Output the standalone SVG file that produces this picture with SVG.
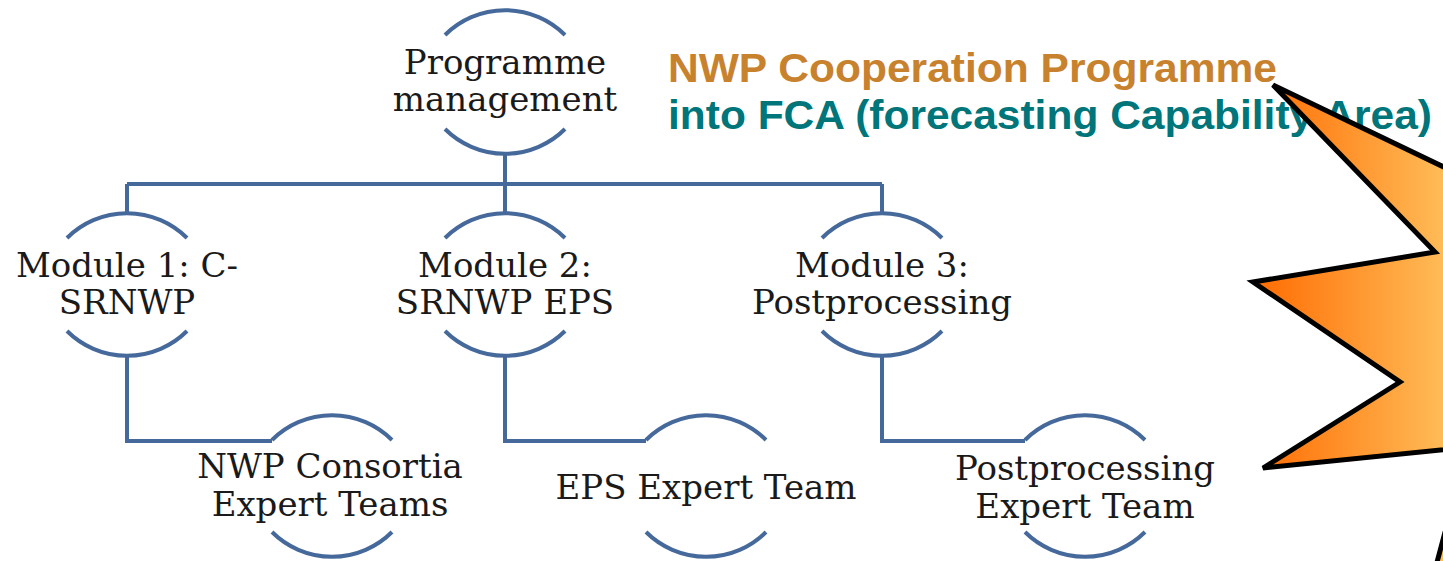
<svg xmlns="http://www.w3.org/2000/svg" width="1443" height="561" viewBox="0 0 1443 561">
<defs>
<linearGradient id="burst" gradientUnits="userSpaceOnUse" x1="1250" y1="0" x2="1450" y2="0">
<stop offset="0" stop-color="#FF6A00"/>
<stop offset="1" stop-color="#FFBE5A"/>
</linearGradient>
<style>
.arc{fill:none;stroke:#46699B;stroke-width:4}
.con{fill:none;stroke:#46699B;stroke-width:4}
.lbl{font-family:"DejaVu Serif",serif;font-size:34px;fill:#1a1a1a;text-anchor:middle}
.t1{font-family:"Liberation Sans",Arial,sans-serif;font-weight:bold;font-size:40px;fill:#C8822D}
.t2{font-family:"Liberation Sans",Arial,sans-serif;font-weight:bold;font-size:40px;fill:#00757A}
.star{fill:url(#burst);stroke:#000;stroke-width:5;stroke-linejoin:miter}
</style>
</defs>
<rect width="1443" height="561" fill="#fff"/>
<g id="connectors">
<path class="con" d="M505,154 V184 M127,184 H882 M127,184 V212 M505,184 V212 M882,184 V212"/>
<path class="con" d="M127,355 V441 H272"/>
<path class="con" d="M505,355 V441 H646"/>
<path class="con" d="M882,355 V441 H1025"/>
</g>
<g id="programme-management">
<path class="arc" d="M445,35 A85,85 0 0 1 565,35"/>
<path class="arc" d="M445,129 A85,85 0 0 0 565,129"/>
<text class="lbl" x="505" y="74">Programme</text>
<text class="lbl" x="505" y="111">management</text>
</g>
<g id="module1">
<path class="arc" d="M67,238 A85,85 0 0 1 187,238"/>
<path class="arc" d="M67,331 A85,85 0 0 0 187,331"/>
<text class="lbl" x="127" y="277">Module 1: C-</text>
<text class="lbl" x="127" y="314">SRNWP</text>
</g>
<g id="module2">
<path class="arc" d="M445,238 A85,85 0 0 1 565,238"/>
<path class="arc" d="M445,331 A85,85 0 0 0 565,331"/>
<text class="lbl" x="505" y="277">Module 2:</text>
<text class="lbl" x="505" y="314">SRNWP EPS</text>
</g>
<g id="module3">
<path class="arc" d="M822,238 A85,85 0 0 1 942,238"/>
<path class="arc" d="M822,331 A85,85 0 0 0 942,331"/>
<text class="lbl" x="882" y="277">Module 3:</text>
<text class="lbl" x="882" y="314">Postprocessing</text>
</g>
<g id="leaf1">
<path class="arc" d="M272,440 A85,85 0 0 1 392,440"/>
<path class="arc" d="M272,532 A85,85 0 0 0 392,532"/>
<text class="lbl" x="330" y="478">NWP Consortia</text>
<text class="lbl" x="330" y="516">Expert Teams</text>
</g>
<g id="leaf2">
<path class="arc" d="M646,440 A85,85 0 0 1 766,440"/>
<path class="arc" d="M646,532 A85,85 0 0 0 766,532"/>
<text class="lbl" x="706" y="499">EPS Expert Team</text>
</g>
<g id="leaf3">
<path class="arc" d="M1025,440 A85,85 0 0 1 1145,440"/>
<path class="arc" d="M1025,532 A85,85 0 0 0 1145,532"/>
<text class="lbl" x="1085" y="480">Postprocessing</text>
<text class="lbl" x="1085" y="518">Expert Team</text>
</g>
<g id="title">
<text class="t1" x="668" y="82" textLength="609" lengthAdjust="spacingAndGlyphs">NWP Cooperation Programme</text>
<text class="t2" x="668" y="129" textLength="764" lengthAdjust="spacingAndGlyphs">into FCA (forecasting Capability Area)</text>
</g>
<g id="burst-shape">
<polygon class="star" points="1273,85 1500,194 1500,444 1263,468 1400,382 1253,282 1435,252"/>
<polygon class="star" points="1436,566 1444,536 1470,566"/>
</g>
</svg>
